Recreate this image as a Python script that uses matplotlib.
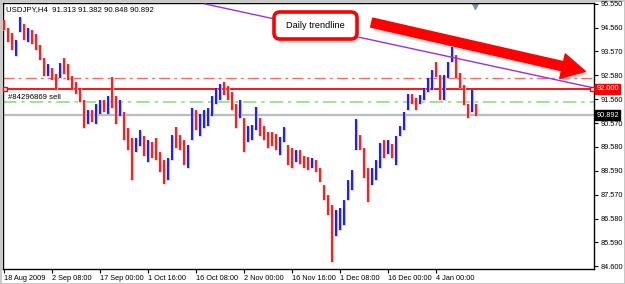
import matplotlib
matplotlib.use('Agg')
import matplotlib.pyplot as plt
from matplotlib.patches import FancyBboxPatch
from matplotlib.transforms import IdentityTransform

# USDJPY H4 bars (one entry per ~4 px of chart)
highs = [94.88, 94.55, 94.34, 94.05, 95.01, 94.71, 94.55, 94.46, 94.30, 93.84,
         93.29, 93.04, 92.88, 92.62, 93.08, 93.29, 93.04, 92.54, 92.29, 92.04,
         91.54, 91.12, 91.12, 91.37, 91.54, 91.54, 91.70, 92.50, 91.70, 91.54,
         91.04, 90.37, 89.95, 89.95, 90.28, 90.03, 89.87, 89.78, 89.95, 89.37,
         89.03, 89.12, 90.07, 90.41, 90.07, 89.87, 89.66, 91.20, 91.12, 90.95,
         91.12, 91.20, 91.70, 92.04, 92.21, 92.29, 92.12, 91.87, 91.37, 91.54,
         90.79, 90.45, 90.49, 91.25, 90.79, 90.45, 90.20, 90.20, 90.12, 89.99,
         90.41, 89.66, 89.53, 89.45, 89.45, 89.20, 89.15, 89.12, 89.03, 88.70,
         87.99, 87.57, 87.15, 86.94, 87.03, 87.36, 88.20, 88.61, 90.74, 90.07,
         89.53, 88.70, 88.70, 89.03, 89.74, 89.87, 89.87, 89.70, 90.03, 90.45,
         91.04, 91.79, 91.79, 91.62, 91.75, 92.04, 92.46, 92.79, 93.13, 92.58,
         92.58, 93.13, 93.75, 93.42, 92.67, 92.16, 91.37, 91.96, 91.38]
lows = [94.46, 93.96, 93.63, 93.38, 94.38, 94.05, 93.96, 93.88, 93.63, 93.21,
        92.54, 92.54, 92.37, 91.96, 92.46, 92.62, 92.37, 91.96, 91.79, 91.45,
        90.37, 90.53, 90.62, 90.53, 90.95, 91.04, 90.95, 91.20, 90.53, 90.87,
        89.87, 89.45, 88.20, 89.37, 89.62, 89.20, 88.95, 89.12, 89.03, 88.53,
        88.03, 88.20, 89.03, 89.53, 89.45, 88.82, 88.70, 89.87, 90.28, 90.03,
        90.37, 90.45, 90.87, 91.37, 91.54, 91.75, 91.54, 91.12, 90.37, 90.79,
        89.37, 89.78, 89.87, 90.28, 90.03, 89.87, 89.53, 89.62, 89.45, 89.24,
        89.78, 88.82, 88.70, 88.95, 88.87, 88.70, 88.61, 88.70, 88.53, 88.11,
        87.36, 86.73, 84.77, 85.85, 86.11, 86.31, 87.36, 87.78, 89.45, 89.45,
        88.28, 87.28, 87.99, 88.20, 88.70, 89.12, 89.28, 89.12, 88.82, 90.03,
        90.28, 91.12, 91.37, 91.12, 91.37, 91.54, 91.87, 91.96, 92.50, 91.54,
        91.54, 92.46, 93.13, 92.46, 92.04, 91.33, 90.79, 91.04, 90.85]
closes = [94.50, 94.10, 93.75, 93.95, 94.60, 94.30, 94.35, 94.00, 93.80, 93.30,
          92.70, 92.90, 92.45, 92.40, 93.00, 92.75, 92.50, 92.10, 91.90, 91.55,
          90.60, 90.90, 90.70, 91.20, 91.30, 91.10, 91.60, 91.40, 91.00, 91.20,
          90.10, 89.70, 89.60, 89.80, 90.00, 89.50, 89.60, 89.40, 89.30, 88.80,
          88.30, 88.90, 89.90, 89.80, 89.60, 89.10, 89.50, 90.90, 90.50, 90.70,
          90.90, 91.10, 91.60, 91.90, 92.10, 91.90, 91.70, 91.20, 90.60, 91.00,
          89.90, 90.10, 90.30, 90.60, 90.20, 90.00, 89.90, 89.80, 89.70, 89.90,
          89.90, 89.20, 89.10, 89.20, 88.95, 88.90, 88.80, 88.90, 88.60, 88.20,
          87.50, 86.90, 86.30, 86.60, 86.80, 87.20, 87.90, 88.40, 89.70, 89.60,
          88.50, 88.00, 88.60, 88.90, 89.50, 89.40, 89.60, 89.40, 89.90, 90.30,
          90.90, 91.60, 91.50, 91.40, 91.70, 91.90, 92.30, 92.70, 92.60, 91.80,
          92.40, 93.00, 93.30, 92.60, 92.20, 91.40, 91.10, 91.90, 90.89]
first_open = 94.80

date_ticks = [0, 12, 24, 36, 48, 60, 72, 84, 96, 108]
date_labels = ['18 Aug 2009', '2 Sep 08:00', '17 Sep 00:00', '1 Oct 16:00',
               '16 Oct 08:00', '2 Nov 00:00', '16 Nov 16:00', '1 Dec 08:00',
               '16 Dec 00:00', '4 Jan 00:00']
price_ticks = [95.550, 94.560, 93.570, 92.580, 91.560, 90.570,
               89.580, 88.590, 87.570, 86.580, 85.590, 84.600]

trend_x = [50.25, 147.5]
trend_y = [95.55, 92.04]
sell_price = 92.000
red_level = 92.45
green_level = 91.47
last_price = 90.892
header = 'USDJPY,H4  91.313 91.382 90.848 90.892'

plt.rcParams['font.family'] = ['Liberation Sans', 'DejaVu Sans']
fs = 5.3

fig = plt.figure(figsize=(6.25, 2.84), dpi=100)
fig.patch.set_edgecolor('#c8c8c8')
fig.patch.set_linewidth(2)
ax = fig.add_axes([3/625, 15/284, 591/625, 266/284])

opens = [first_open] + closes[:-1]
xs = list(range(len(closes)))
cols = ['#0000ff' if c >= o else '#ff0000' for o, c in zip(opens, closes)]
light = ['#b4b8ff' if c >= o else '#ffb0b0' for o, c in zip(opens, closes)]
ax.vlines(xs, lows, highs, colors=light, lw=2.3, zorder=3)
ax.vlines(xs, lows, highs, colors=cols, lw=1.2, zorder=4)

# levels
ax.axhline(last_price, color='#b8bec8', lw=1.6, zorder=2)
ax.axhline(red_level, color='#ff6a6a', lw=1.0, ls=(0, (8, 3, 2, 3)), zorder=2)
ax.axhline(green_level, color='#8edc8e', lw=1.2, ls=(0, (8, 3, 2, 3)), zorder=2)
ax.axhline(sell_price, color='#ff0000', lw=1.3, zorder=2)
ax.plot(trend_x, trend_y, color='#9b30d9', lw=1.0, zorder=5)

yt = ax.get_yaxis_transform()
ax.plot([0.004, 0.996], [sell_price, sell_price], 's', ms=3.5, mfc='white',
        mec='#ff0000', mew=1, transform=yt, zorder=6, clip_on=False)
ax.plot(0.799, 0.99, 'v', ms=4, color='#8090a8', transform=ax.transAxes)

ax.text(0.005, 0.977, header, transform=ax.transAxes, fontsize=5.6,
        va='center', ha='left')
ax.text(0.0085, 0.645, '#84296869 sell', transform=ax.transAxes, fontsize=5.6,
        va='center', ha='left')

ax.text(1.004, sell_price, '92.000', transform=yt, fontsize=fs, color='white',
        va='center', ha='left', clip_on=False,
        bbox=dict(boxstyle='square,pad=0.2', fc='#ff0000', ec='#ff0000'))
ax.text(1.004, last_price, '90.892', transform=yt, fontsize=fs, color='white',
        va='center', ha='left', clip_on=False,
        bbox=dict(boxstyle='square,pad=0.2', fc='black', ec='black'))

ax.set_xlim(-0.25, 147.5)
ax.set_ylim(84.476, 95.59)
ax.yaxis.tick_right()
ax.set_yticks(price_ticks)
ax.set_yticklabels(['%.3f' % p for p in price_ticks])
ax.set_xticks(date_ticks)
ax.set_xticklabels(date_labels, ha='left')
ax.tick_params(axis='both', labelsize=fs, length=3, width=0.8, pad=1.5)
for s in ax.spines.values():
    s.set_linewidth(1)

# callout box and arrow (pixel coordinates, origin bottom-left)
px = IdentityTransform()
shadow = FancyBboxPatch((277, 241), 82, 28, boxstyle='round,pad=0,rounding_size=6',
                        transform=px, fc='#bbbbbb', ec='none', alpha=0.5)
box = FancyBboxPatch((274, 245), 83, 27, boxstyle='round,pad=0,rounding_size=6',
                     transform=px, fc='white', ec='#ff0000', lw=2.6)
fig.patches.extend([shadow, box])
fig.text(315.5/625, 258.5/284, 'Daily trendline', fontsize=6.6, ha='center', va='center')

ax.annotate('', xy=(591, 209), xytext=(372, 258), xycoords='figure pixels',
            arrowprops=dict(arrowstyle='simple,head_length=1.4,head_width=1.5,tail_width=0.55',
                            fc='#bbbbbb', ec='none', alpha=0.5, mutation_scale=12))
ax.annotate('', xy=(588, 212), xytext=(369, 262), xycoords='figure pixels',
            arrowprops=dict(arrowstyle='simple,head_length=1.4,head_width=1.5,tail_width=0.55',
                            fc='#ff0000', ec='#ff0000', mutation_scale=12))

fig.savefig('out.png', dpi=100)
